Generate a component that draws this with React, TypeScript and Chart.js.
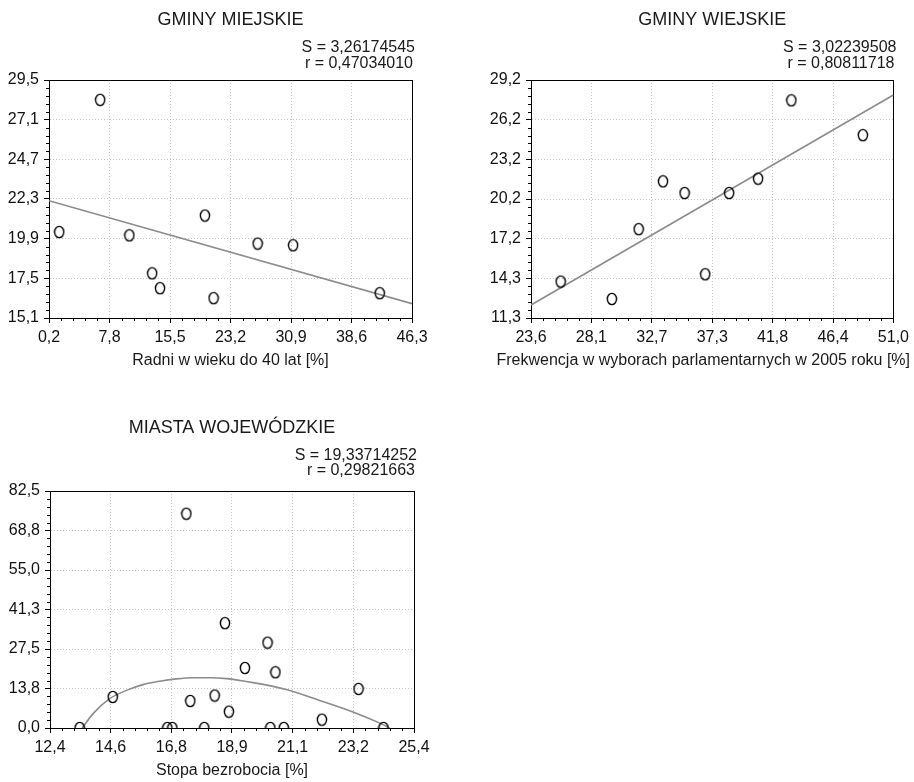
import React, { useEffect, useRef } from 'react';
import { Chart, registerables } from 'chart.js';

Chart.register(...registerables);

const FONT = '"Liberation Sans", Arial, Helvetica, sans-serif';

// ---------- Panel 1: GMINY MIEJSKIE ----------
const p1Title = 'GMINY MIEJSKIE';
const p1Stats = ['S = 3,26174545', 'r = 0,47034010'];
const p1AxisTitle = 'Radni w wieku do 40 lat [%]';
const p1XTickLabels = ['0,2', '7,8', '15,5', '23,2', '30,9', '38,6', '46,3'];
const p1YTickLabels = ['15,1', '17,5', '19,9', '22,3', '24,7', '27,1', '29,5'];
const p1XRange = [0.2, 46.3];
const p1YRange = [15.1, 29.5];
const p1X = [1.5, 6.7, 10.4, 13.3, 14.3, 20.0, 21.1, 26.7, 31.2, 42.2];
const p1Y = [20.3, 28.3, 20.1, 17.8, 16.9, 21.3, 16.3, 19.6, 19.5, 16.6];
const p1FitX = [0.2, 46.3];
const p1FitY = [22.2, 15.97];

// ---------- Panel 2: GMINY WIEJSKIE ----------
const p2Title = 'GMINY WIEJSKIE';
const p2Stats = ['S = 3,02239508', 'r = 0,80811718'];
const p2AxisTitle = 'Frekwencja w wyborach parlamentarnych w 2005 roku [%]';
const p2XTickLabels = ['23,6', '28,1', '32,7', '37,3', '41,8', '46,4', '51,0'];
const p2YTickLabels = ['11,3', '14,3', '17,2', '20,2', '23,2', '26,2', '29,2'];
const p2XRange = [23.6, 51.0];
const p2YRange = [11.3, 29.2];
const p2X = [25.84, 29.71, 31.74, 33.58, 35.21, 36.77, 38.58, 40.77, 43.28, 48.69];
const p2Y = [14.04, 12.73, 17.98, 21.58, 20.7, 14.59, 20.7, 21.78, 27.67, 25.05];
const p2FitX = [23.6, 51.0];
const p2FitY = [12.28, 28.07];

// ---------- Panel 3: MIASTA WOJEWÓDZKIE ----------
const p3Title = 'MIASTA WOJEWÓDZKIE';
const p3Stats = ['S = 19,33714252', 'r = 0,29821663'];
const p3AxisTitle = 'Stopa bezrobocia [%]';
const p3XTickLabels = ['12,4', '14,6', '16,8', '18,9', '21,1', '23,2', '25,4'];
const p3YTickLabels = ['0,0', '13,8', '27,5', '41,3', '55,0', '68,8', '82,5'];
const p3XRange = [12.4, 25.4];
const p3YRange = [0, 82.5];
const p3X = [13.46, 14.64, 16.59, 16.77, 17.41, 17.27, 17.91, 18.28, 18.65, 18.79, 19.36, 20.17, 20.27, 20.45, 20.75, 22.11, 23.42, 24.31];
const p3Y = [0, 10.8, 0, 0, 9.4, 74.6, 0, 11.3, 36.5, 5.7, 20.9, 29.7, 0, 19.4, 0, 2.9, 13.6, 0];
const p3FitX = [13.55, 13.94, 14.53, 15.13, 15.72, 16.32, 16.91, 17.51, 18.1, 18.7, 19.65, 20.84, 22.03, 23.22, 24.18, 24.53];
const p3FitY = [0, 5.0, 10.2, 13.1, 15.1, 16.3, 17.1, 17.5, 17.5, 17.2, 15.8, 13.4, 9.6, 5.6, 1.7, 0];

type Panel = {
  title: string;
  stats: string[];
  axisTitle: string;
  xLabels: string[];
  yLabels: string[];
  xRange: number[];
  yRange: number[];
  xs: number[];
  ys: number[];
  fitX: number[];
  fitY: number[];
  smooth: boolean;
  canvas: { left: number; top: number; width: number; height: number };
  yAxisWidth: number;
  xAxisHeight: number;
  padding: { left: number; top: number; right: number; bottom: number };
  textOffsets: { title: number; s1: number; s2: number; axis: number };
};

const panels: Panel[] = [
  {
    title: p1Title, stats: p1Stats, axisTitle: p1AxisTitle,
    xLabels: p1XTickLabels, yLabels: p1YTickLabels, xRange: p1XRange, yRange: p1YRange,
    xs: p1X, ys: p1Y, fitX: p1FitX, fitY: p1FitY, smooth: false,
    canvas: { left: 0, top: 0, width: 460, height: 380 },
    yAxisWidth: 49, xAxisHeight: 62,
    padding: { left: 0, top: 80, right: 48, bottom: 0 },
    textOffsets: { title: 60, s1: 32.5, s2: 16, axis: 43 },
  },
  {
    title: p2Title, stats: p2Stats, axisTitle: p2AxisTitle,
    xLabels: p2XTickLabels, yLabels: p2YTickLabels, xRange: p2XRange, yRange: p2YRange,
    xs: p2X, ys: p2Y, fitX: p2FitX, fitY: p2FitY, smooth: false,
    canvas: { left: 460, top: 0, width: 454, height: 380 },
    yAxisWidth: 71, xAxisHeight: 62,
    padding: { left: 0, top: 80, right: 19, bottom: 0 },
    textOffsets: { title: 60, s1: 32.5, s2: 16, axis: 43 },
  },
  {
    title: p3Title, stats: p3Stats, axisTitle: p3AxisTitle,
    xLabels: p3XTickLabels, yLabels: p3YTickLabels, xRange: p3XRange, yRange: p3YRange,
    xs: p3X, ys: p3Y, fitX: p3FitX, fitY: p3FitY, smooth: true,
    canvas: { left: 0, top: 380, width: 460, height: 402 },
    yAxisWidth: 50, xAxisHeight: 54,
    padding: { left: 0, top: 111, right: 46, bottom: 0 },
    textOffsets: { title: 63, s1: 35.5, s2: 20.5, axis: 43 },
  },
];

function makeEllipse(): HTMLCanvasElement {
  const c = document.createElement('canvas');
  c.width = 12;
  c.height = 14;
  const g = c.getContext('2d')!;
  g.strokeStyle = '#000';
  g.lineWidth = 1.4;
  g.beginPath();
  g.ellipse(6, 7, 4.6, 5.6, 0, 0, Math.PI * 2);
  g.stroke();
  return c;
}

function tickValues(range: number[], n: number) {
  const out: { value: number }[] = [];
  for (let i = 0; i < n; i++) out.push({ value: range[0] + ((range[1] - range[0]) * i) / (n - 1) });
  return out;
}

const framePlugin = {
  id: 'frameAndMinor',
  beforeDatasetsDraw(chart: any) {
    const ctx = chart.ctx;
    const { left, right, top, bottom } = chart.chartArea;
    ctx.save();
    ctx.strokeStyle = '#000';
    ctx.lineWidth = 1;
    ctx.strokeRect(Math.round(left) + 0.5, Math.round(top) + 0.5, Math.round(right) - Math.round(left), Math.round(bottom) - Math.round(top));
    const xs = chart.scales.x;
    const ys = chart.scales.y;
    ctx.beginPath();
    for (let i = 0; i < xs.ticks.length - 1; i++) {
      const a = xs.ticks[i].value;
      const b = xs.ticks[i + 1].value;
      for (let k = 1; k < 5; k++) {
        const px = Math.round(xs.getPixelForValue(a + ((b - a) * k) / 5)) + 0.5;
        ctx.moveTo(px, Math.round(bottom));
        ctx.lineTo(px, Math.round(bottom) + 3);
      }
    }
    for (let i = 0; i < ys.ticks.length - 1; i++) {
      const a = ys.ticks[i].value;
      const b = ys.ticks[i + 1].value;
      for (let k = 1; k < 5; k++) {
        const py = Math.round(ys.getPixelForValue(a + ((b - a) * k) / 5)) + 0.5;
        ctx.moveTo(Math.round(left), py);
        ctx.lineTo(Math.round(left) - 3, py);
      }
    }
    ctx.stroke();
    ctx.restore();
  },
  afterDraw(chart: any) {
    const p: Panel = chart.options.plugins.frameAndMinor.panel;
    const ctx = chart.ctx;
    const { left, right, top, bottom } = chart.chartArea;
    const cx = (left + right) / 2;
    ctx.save();
    ctx.fillStyle = '#1a1a1a';
    ctx.textBaseline = 'middle';
    ctx.textAlign = 'center';
    ctx.font = `18px ${FONT}`;
    ctx.fillText(p.title, cx, top - p.textOffsets.title);
    ctx.font = `16px ${FONT}`;
    ctx.textAlign = 'right';
    ctx.fillText(p.stats[0], right + 3, top - p.textOffsets.s1);
    ctx.fillText(p.stats[1], right + 1, top - p.textOffsets.s2);
    ctx.textAlign = 'center';
    const w = ctx.measureText(p.axisTitle).width;
    const maxCx = chart.width - 4 - w / 2;
    ctx.fillText(p.axisTitle, Math.min(cx, maxCx), bottom + p.textOffsets.axis);
    ctx.restore();
  },
};

function PanelChart({ p }: { p: Panel }) {
  const ref = useRef<HTMLCanvasElement | null>(null);
  useEffect(() => {
    if (!ref.current) return;
    const ellipse = makeEllipse();
    const tickFont = { family: FONT, size: 16 };
    const chart = new Chart(ref.current, {
      type: 'scatter',
      data: {
        datasets: [
          {
            data: p.xs.map((x, i) => ({ x, y: p.ys[i] })),
            pointStyle: ellipse as any,
            pointRadius: 5,
            borderColor: '#000',
            backgroundColor: 'rgba(0,0,0,0)',
            order: 1,
          },
          {
            data: p.fitX.map((x, i) => ({ x, y: p.fitY[i] })),
            showLine: true,
            borderColor: '#8c8c8c',
            borderWidth: 1.6,
            pointRadius: 0,
            tension: p.smooth ? 0.4 : 0,
            cubicInterpolationMode: p.smooth ? 'monotone' : 'default',
            fill: false,
            order: 2,
          } as any,
        ],
      },
      options: {
        animation: false,
        responsive: false,
        events: [],
        layout: { padding: p.padding },
        plugins: {
          legend: { display: false },
          tooltip: { enabled: false },
          title: { display: false },
          frameAndMinor: { panel: p },
        } as any,
        scales: {
          x: {
            type: 'linear',
            min: p.xRange[0],
            max: p.xRange[1],
            afterFit: (s: any) => { s.height = p.xAxisHeight; },
            afterBuildTicks: (s: any) => { s.ticks = tickValues(p.xRange, p.xLabels.length); },
            ticks: {
              autoSkip: false,
              maxRotation: 0,
              padding: 5,
              color: '#111',
              font: tickFont,
              callback: (_v: any, i: number) => p.xLabels[i],
            },
            grid: { color: '#c4c4c4', lineWidth: 1, tickColor: '#000', tickLength: 5 },
            border: { display: true, color: '#000', dash: [1, 2] },
          },
          y: {
            type: 'linear',
            min: p.yRange[0],
            max: p.yRange[1],
            afterFit: (s: any) => { s.width = p.yAxisWidth; },
            afterBuildTicks: (s: any) => { s.ticks = tickValues(p.yRange, p.yLabels.length); },
            ticks: {
              autoSkip: false,
              padding: 5,
              color: '#111',
              font: tickFont,
              callback: (_v: any, i: number) => p.yLabels[i],
            },
            grid: { color: '#c4c4c4', lineWidth: 1, tickColor: '#000', tickLength: 5 },
            border: { display: true, color: '#000', dash: [1, 2] },
          },
        },
      },
      plugins: [framePlugin],
    } as any);
    return () => chart.destroy();
  }, [p]);
  return (
    <canvas
      ref={ref}
      width={p.canvas.width}
      height={p.canvas.height}
      style={{ position: 'absolute', left: p.canvas.left, top: p.canvas.top, width: p.canvas.width, height: p.canvas.height }}
    />
  );
}

export default function App() {
  return (
    <div style={{ position: 'absolute', left: 0, top: 0, width: 914, height: 782, background: '#fff' }}>
      {panels.map((p, i) => (
        <PanelChart key={i} p={p} />
      ))}
    </div>
  );
}
